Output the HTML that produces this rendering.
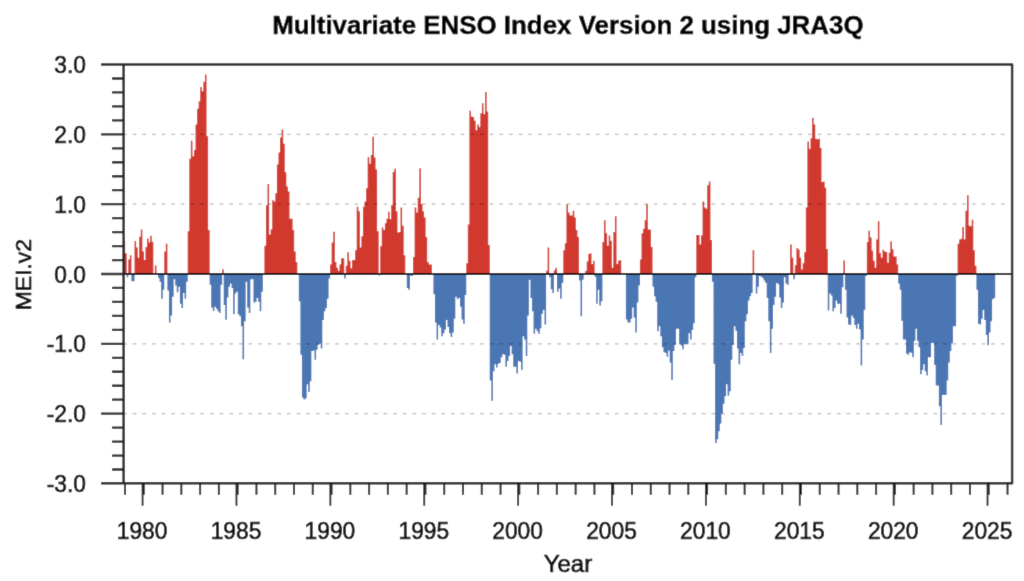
<!DOCTYPE html>
<html><head><meta charset="utf-8"><title>Multivariate ENSO Index Version 2 using JRA3Q</title>
<style>html,body{margin:0;padding:0;background:#fff;overflow:hidden}svg{display:block}</style></head>
<body><svg width="1024" height="581" viewBox="0 0 1024 581">
<defs><filter id="soft" x="0" y="0" width="1024" height="581" filterUnits="userSpaceOnUse"><feConvolveMatrix order="3" kernelMatrix="0.01134 0.08382 0.01134 0.08382 0.61935 0.08382 0.01134 0.08382 0.01134" edgeMode="duplicate" preserveAlpha="true"/></filter></defs>
<rect width="1024" height="581" fill="#fff"/>
<g filter="url(#soft)">
<rect width="1024" height="581" fill="#fff"/>
<path d="M123.55 273.8V241.34h1.615V273.8zM125.11 273.8V253.28h1.615V273.8zM128.24 273.8V259.56h1.615V273.8zM129.81 273.8V255.16h1.615V273.8zM134.50 273.8V241.06h1.615V273.8zM136.07 273.8V247.62h1.615V273.8zM137.63 273.8V257.68h1.615V273.8zM139.20 273.8V236.67h1.615V273.8zM140.76 273.8V229.62h1.615V273.8zM142.33 273.8V251.39h1.615V273.8zM143.89 273.8V260.12h1.615V273.8zM145.46 273.8V247.00h1.615V273.8zM147.02 273.8V238.41h1.615V273.8zM148.59 273.8V242.60h1.615V273.8zM150.15 273.8V235.69h1.615V273.8zM151.72 273.8V241.69h1.615V273.8zM154.85 273.8V265.56h1.615V273.8zM164.24 273.8V251.39h1.615V273.8zM165.80 273.8V243.86h1.615V273.8zM187.71 273.8V231.29h1.615V273.8zM189.27 273.8V158.77h1.615V273.8zM190.84 273.8V140.76h1.615V273.8zM192.40 273.8V156.26h1.615V273.8zM193.97 273.8V149.97h1.615V273.8zM195.53 273.8V124.57h1.615V273.8zM197.10 273.8V108.86h1.615V273.8zM198.66 273.8V101.32h1.615V273.8zM200.23 273.8V86.88h1.615V273.8zM201.79 273.8V91.27h1.615V273.8zM203.36 273.8V81.85h1.615V273.8zM204.92 273.8V74.59h1.615V273.8zM206.49 273.8V136.15h1.615V273.8zM208.05 273.8V230.04h1.615V273.8zM222.13 273.8V269.33h1.615V273.8zM264.38 273.8V245.74h1.615V273.8zM265.95 273.8V205.26h1.615V273.8zM267.51 273.8V183.90h1.615V273.8zM269.08 273.8V234.43h1.615V273.8zM270.64 273.8V229.41h1.615V273.8zM272.21 273.8V200.23h1.615V273.8zM273.77 273.8V201.49h1.615V273.8zM275.34 273.8V193.32h1.615V273.8zM276.90 273.8V164.42h1.615V273.8zM278.47 273.8V152.49h1.615V273.8zM280.03 273.8V137.41h1.615V273.8zM281.60 273.8V129.59h1.615V273.8zM283.16 273.8V143.69h1.615V273.8zM284.73 273.8V172.17h1.615V273.8zM286.29 273.8V186.41h1.615V273.8zM287.86 273.8V191.44h1.615V273.8zM289.42 273.8V218.73h1.615V273.8zM290.99 273.8V218.73h1.615V273.8zM292.55 273.8V230.04h1.615V273.8zM294.12 273.8V251.39h1.615V273.8zM295.68 273.8V262.00h1.615V273.8zM330.11 273.8V264.52h1.615V273.8zM331.67 273.8V242.60h1.615V273.8zM333.24 273.8V231.64h1.615V273.8zM334.80 273.8V262.00h1.615V273.8zM336.37 273.8V267.66h1.615V273.8zM337.93 273.8V270.80h1.615V273.8zM339.50 273.8V264.52h1.615V273.8zM341.06 273.8V258.30h1.615V273.8zM342.63 273.8V258.30h1.615V273.8zM345.76 273.8V265.77h1.615V273.8zM347.32 273.8V252.23h1.615V273.8zM348.89 273.8V260.75h1.615V273.8zM350.45 273.8V268.29h1.615V273.8zM352.02 273.8V260.12h1.615V273.8zM353.58 273.8V260.12h1.615V273.8zM355.15 273.8V250.14h1.615V273.8zM356.71 273.8V206.79h1.615V273.8zM358.27 273.8V211.19h1.615V273.8zM359.84 273.8V247.62h1.615V273.8zM361.40 273.8V236.32h1.615V273.8zM362.97 273.8V206.79h1.615V273.8zM364.53 273.8V201.49h1.615V273.8zM366.10 273.8V188.30h1.615V273.8zM367.66 273.8V156.89h1.615V273.8zM369.23 273.8V163.80h1.615V273.8zM370.79 273.8V155.00h1.615V273.8zM372.36 273.8V136.78h1.615V273.8zM373.92 273.8V157.51h1.615V273.8zM375.49 273.8V169.45h1.615V273.8zM377.05 273.8V231.29h1.615V273.8zM380.18 273.8V246.37h1.615V273.8zM381.75 273.8V227.52h1.615V273.8zM383.31 273.8V230.04h1.615V273.8zM384.88 273.8V223.13h1.615V273.8zM386.44 273.8V218.73h1.615V273.8zM388.01 273.8V211.82h1.615V273.8zM389.57 273.8V219.36h1.615V273.8zM391.14 273.8V205.26h1.615V273.8zM392.70 273.8V171.96h1.615V273.8zM394.27 273.8V168.82h1.615V273.8zM395.83 273.8V211.19h1.615V273.8zM397.40 273.8V232.55h1.615V273.8zM398.96 273.8V231.92h1.615V273.8zM400.53 273.8V207.42h1.615V273.8zM402.09 273.8V225.64h1.615V273.8zM403.66 273.8V255.16h1.615V273.8zM413.04 273.8V257.05h1.615V273.8zM414.61 273.8V207.42h1.615V273.8zM416.17 273.8V212.45h1.615V273.8zM417.74 273.8V197.72h1.615V273.8zM419.30 273.8V168.19h1.615V273.8zM420.87 273.8V204.00h1.615V273.8zM422.43 273.8V211.19h1.615V273.8zM424.00 273.8V217.47h1.615V273.8zM425.56 273.8V236.95h1.615V273.8zM427.13 273.8V262.00h1.615V273.8zM428.69 273.8V264.52h1.615V273.8zM430.26 273.8V264.52h1.615V273.8zM466.25 273.8V263.26h1.615V273.8zM467.81 273.8V224.38h1.615V273.8zM469.38 273.8V110.75h1.615V273.8zM470.94 273.8V116.40h1.615V273.8zM472.51 273.8V117.03h1.615V273.8zM474.07 273.8V120.80h1.615V273.8zM475.64 273.8V130.22h1.615V273.8zM477.20 273.8V124.57h1.615V273.8zM478.77 273.8V127.08h1.615V273.8zM480.33 273.8V113.26h1.615V273.8zM481.90 273.8V103.21h1.615V273.8zM483.46 273.8V113.89h1.615V273.8zM485.03 273.8V91.90h1.615V273.8zM486.59 273.8V111.38h1.615V273.8zM488.16 273.8V245.11h1.615V273.8zM546.05 273.8V270.80h1.615V273.8zM547.62 273.8V247.62h1.615V273.8zM553.88 273.8V270.17h1.615V273.8zM555.44 273.8V267.66h1.615V273.8zM563.27 273.8V250.14h1.615V273.8zM564.83 273.8V243.23h1.615V273.8zM566.40 273.8V204.28h1.615V273.8zM567.96 273.8V212.45h1.615V273.8zM569.53 273.8V215.59h1.615V273.8zM571.09 273.8V215.59h1.615V273.8zM572.66 273.8V210.77h1.615V273.8zM574.22 273.8V217.47h1.615V273.8zM575.79 273.8V230.04h1.615V273.8zM577.35 273.8V236.95h1.615V273.8zM585.18 273.8V270.80h1.615V273.8zM586.74 273.8V261.38h1.615V273.8zM588.31 273.8V253.91h1.615V273.8zM589.87 273.8V253.28h1.615V273.8zM591.44 273.8V263.89h1.615V273.8zM593.00 273.8V260.75h1.615V273.8zM602.39 273.8V241.97h1.615V273.8zM603.95 273.8V220.33h1.615V273.8zM605.52 273.8V233.18h1.615V273.8zM607.08 273.8V245.74h1.615V273.8zM608.65 273.8V235.41h1.615V273.8zM610.21 273.8V240.71h1.615V273.8zM611.78 273.8V267.66h1.615V273.8zM613.34 273.8V231.92h1.615V273.8zM614.91 273.8V216.22h1.615V273.8zM616.47 273.8V263.89h1.615V273.8zM618.04 273.8V260.75h1.615V273.8zM619.60 273.8V260.12h1.615V273.8zM639.94 273.8V259.56h1.615V273.8zM641.51 273.8V233.18h1.615V273.8zM643.07 273.8V228.78h1.615V273.8zM644.64 273.8V220.33h1.615V273.8zM646.20 273.8V204.28h1.615V273.8zM647.77 273.8V229.41h1.615V273.8zM649.33 273.8V229.41h1.615V273.8zM650.90 273.8V247.00h1.615V273.8zM696.28 273.8V235.06h1.615V273.8zM697.84 273.8V235.06h1.615V273.8zM699.41 273.8V244.48h1.615V273.8zM700.97 273.8V235.41h1.615V273.8zM702.54 273.8V201.49h1.615V273.8zM704.10 273.8V207.42h1.615V273.8zM705.67 273.8V208.68h1.615V273.8zM707.23 273.8V185.15h1.615V273.8zM708.80 273.8V181.38h1.615V273.8zM710.36 273.8V240.09h1.615V273.8zM752.61 273.8V250.14h1.615V273.8zM790.17 273.8V244.48h1.615V273.8zM791.73 273.8V257.68h1.615V273.8zM794.86 273.8V265.14h1.615V273.8zM796.43 273.8V247.97h1.615V273.8zM797.99 273.8V249.51h1.615V273.8zM799.56 273.8V257.68h1.615V273.8zM801.12 273.8V269.54h1.615V273.8zM802.69 273.8V263.26h1.615V273.8zM804.25 273.8V252.23h1.615V273.8zM805.82 273.8V207.42h1.615V273.8zM807.38 273.8V141.53h1.615V273.8zM808.95 273.8V148.72h1.615V273.8zM810.51 273.8V138.25h1.615V273.8zM812.08 273.8V117.66h1.615V273.8zM813.64 273.8V124.57h1.615V273.8zM815.21 273.8V138.67h1.615V273.8zM816.77 273.8V139.30h1.615V273.8zM818.34 273.8V138.67h1.615V273.8zM819.90 273.8V148.09h1.615V273.8zM821.47 273.8V182.01h1.615V273.8zM823.03 273.8V181.38h1.615V273.8zM824.60 273.8V187.67h1.615V273.8zM826.16 273.8V248.88h1.615V273.8zM843.37 273.8V260.54h1.615V273.8zM866.85 273.8V241.97h1.615V273.8zM868.41 273.8V230.66h1.615V273.8zM869.98 273.8V237.57h1.615V273.8zM871.54 273.8V250.77h1.615V273.8zM873.11 273.8V260.75h1.615V273.8zM874.67 273.8V267.66h1.615V273.8zM876.23 273.8V239.46h1.615V273.8zM877.80 273.8V221.24h1.615V273.8zM879.36 273.8V253.28h1.615V273.8zM880.93 273.8V257.68h1.615V273.8zM882.49 273.8V249.72h1.615V273.8zM884.06 273.8V251.39h1.615V273.8zM885.62 273.8V252.02h1.615V273.8zM887.19 273.8V262.63h1.615V273.8zM888.75 273.8V252.65h1.615V273.8zM890.32 273.8V241.34h1.615V273.8zM891.88 273.8V249.23h1.615V273.8zM893.45 273.8V256.42h1.615V273.8zM895.01 273.8V256.42h1.615V273.8zM896.58 273.8V264.52h1.615V273.8zM957.61 273.8V243.86h1.615V273.8zM959.17 273.8V239.46h1.615V273.8zM960.74 273.8V238.83h1.615V273.8zM962.30 273.8V226.89h1.615V273.8zM963.87 273.8V239.46h1.615V273.8zM965.43 273.8V210.77h1.615V273.8zM967.00 273.8V195.21h1.615V273.8zM968.56 273.8V225.64h1.615V273.8zM970.12 273.8V226.27h1.615V273.8zM971.69 273.8V219.71h1.615V273.8zM973.25 273.8V250.14h1.615V273.8zM974.82 273.8V265.77h1.615V273.8z" fill="#d1372d"/>
<path d="M126.68 273.8V277.29h1.615V273.8zM131.37 273.8V281.27h1.615V273.8zM132.94 273.8V281.27h1.615V273.8zM157.98 273.8V277.92h1.615V273.8zM159.54 273.8V281.69h1.615V273.8zM161.11 273.8V298.65h1.615V273.8zM162.67 273.8V289.85h1.615V273.8zM167.37 273.8V290.48h1.615V273.8zM168.93 273.8V322.52h1.615V273.8zM170.50 273.8V315.61h1.615V273.8zM172.06 273.8V296.76h1.615V273.8zM173.62 273.8V279.17h1.615V273.8zM175.19 273.8V285.46h1.615V273.8zM176.75 273.8V292.37h1.615V273.8zM178.32 273.8V286.71h1.615V273.8zM179.88 273.8V303.67h1.615V273.8zM181.45 273.8V308.07h1.615V273.8zM183.01 273.8V293.00h1.615V273.8zM184.58 273.8V298.65h1.615V273.8zM186.14 273.8V281.69h1.615V273.8zM209.62 273.8V284.83h1.615V273.8zM211.18 273.8V307.44h1.615V273.8zM212.75 273.8V310.93h1.615V273.8zM214.31 273.8V306.82h1.615V273.8zM215.88 273.8V308.70h1.615V273.8zM217.44 273.8V311.21h1.615V273.8zM219.00 273.8V313.10h1.615V273.8zM220.57 273.8V284.83h1.615V273.8zM223.70 273.8V304.93h1.615V273.8zM225.26 273.8V319.73h1.615V273.8zM226.83 273.8V297.39h1.615V273.8zM228.39 273.8V286.71h1.615V273.8zM229.96 273.8V283.57h1.615V273.8zM231.52 273.8V287.97h1.615V273.8zM233.09 273.8V314.35h1.615V273.8zM234.65 273.8V293.62h1.615V273.8zM236.22 273.8V291.74h1.615V273.8zM237.78 273.8V314.35h1.615V273.8zM239.35 273.8V316.24h1.615V273.8zM240.91 273.8V326.29h1.615V273.8zM242.48 273.8V359.24h1.615V273.8zM244.04 273.8V321.26h1.615V273.8zM245.61 273.8V281.69h1.615V273.8zM247.17 273.8V307.44h1.615V273.8zM248.74 273.8V313.10h1.615V273.8zM250.30 273.8V279.17h1.615V273.8zM251.87 273.8V279.17h1.615V273.8zM253.43 273.8V302.42h1.615V273.8zM255.00 273.8V301.79h1.615V273.8zM256.56 273.8V298.02h1.615V273.8zM258.13 273.8V301.79h1.615V273.8zM259.69 273.8V311.21h1.615V273.8zM261.26 273.8V291.74h1.615V273.8zM298.81 273.8V301.16h1.615V273.8zM300.38 273.8V354.84h1.615V273.8zM301.94 273.8V397.56h1.615V273.8zM303.51 273.8V399.44h1.615V273.8zM305.07 273.8V398.53h1.615V273.8zM306.64 273.8V384.36h1.615V273.8zM308.20 273.8V391.90h1.615V273.8zM309.77 273.8V381.22h1.615V273.8zM311.33 273.8V351.07h1.615V273.8zM312.89 273.8V350.44h1.615V273.8zM314.46 273.8V359.86h1.615V273.8zM316.02 273.8V349.81h1.615V273.8zM317.59 273.8V344.79h1.615V273.8zM319.15 273.8V343.74h1.615V273.8zM320.72 273.8V348.56h1.615V273.8zM322.28 273.8V320.01h1.615V273.8zM323.85 273.8V311.21h1.615V273.8zM325.41 273.8V308.07h1.615V273.8zM326.98 273.8V298.65h1.615V273.8zM328.54 273.8V278.55h1.615V273.8zM344.19 273.8V278.55h1.615V273.8zM378.62 273.8V275.41h1.615V273.8zM406.78 273.8V287.97h1.615V273.8zM408.35 273.8V289.85h1.615V273.8zM409.91 273.8V275.41h1.615V273.8zM411.48 273.8V276.03h1.615V273.8zM433.39 273.8V294.25h1.615V273.8zM434.95 273.8V322.52h1.615V273.8zM436.52 273.8V339.48h1.615V273.8zM438.08 273.8V325.03h1.615V273.8zM439.65 273.8V327.55h1.615V273.8zM441.21 273.8V336.34h1.615V273.8zM442.78 273.8V333.20h1.615V273.8zM444.34 273.8V329.43h1.615V273.8zM445.91 273.8V320.01h1.615V273.8zM447.47 273.8V326.92h1.615V273.8zM449.04 273.8V333.20h1.615V273.8zM450.60 273.8V336.97h1.615V273.8zM452.17 273.8V332.57h1.615V273.8zM453.73 273.8V318.75h1.615V273.8zM455.29 273.8V296.76h1.615V273.8zM456.86 273.8V299.28h1.615V273.8zM458.42 273.8V298.02h1.615V273.8zM459.99 273.8V306.82h1.615V273.8zM461.55 273.8V319.38h1.615V273.8zM463.12 273.8V323.78h1.615V273.8zM464.68 273.8V294.88h1.615V273.8zM489.72 273.8V380.59h1.615V273.8zM491.29 273.8V400.70h1.615V273.8zM492.85 273.8V371.17h1.615V273.8zM494.42 273.8V364.26h1.615V273.8zM495.98 273.8V367.40h1.615V273.8zM497.55 273.8V363.63h1.615V273.8zM499.11 273.8V363.00h1.615V273.8zM500.67 273.8V357.35h1.615V273.8zM502.24 273.8V354.21h1.615V273.8zM503.80 273.8V354.84h1.615V273.8zM505.37 273.8V366.77h1.615V273.8zM506.93 273.8V361.12h1.615V273.8zM508.50 273.8V356.09h1.615V273.8zM510.06 273.8V346.04h1.615V273.8zM511.63 273.8V354.21h1.615V273.8zM513.19 273.8V366.77h1.615V273.8zM514.76 273.8V366.77h1.615V273.8zM516.32 273.8V373.40h1.615V273.8zM517.89 273.8V361.12h1.615V273.8zM519.45 273.8V361.75h1.615V273.8zM521.02 273.8V369.91h1.615V273.8zM522.58 273.8V336.34h1.615V273.8zM524.15 273.8V339.48h1.615V273.8zM525.71 273.8V356.09h1.615V273.8zM527.28 273.8V315.61h1.615V273.8zM528.84 273.8V279.80h1.615V273.8zM530.41 273.8V298.02h1.615V273.8zM531.97 273.8V311.21h1.615V273.8zM533.54 273.8V333.83h1.615V273.8zM535.10 273.8V328.80h1.615V273.8zM536.67 273.8V331.32h1.615V273.8zM538.23 273.8V333.83h1.615V273.8zM539.80 273.8V328.17h1.615V273.8zM541.36 273.8V313.73h1.615V273.8zM542.93 273.8V309.96h1.615V273.8zM544.49 273.8V324.41h1.615V273.8zM549.18 273.8V277.29h1.615V273.8zM550.75 273.8V289.23h1.615V273.8zM552.31 273.8V293.00h1.615V273.8zM557.01 273.8V291.74h1.615V273.8zM558.57 273.8V288.60h1.615V273.8zM560.14 273.8V298.65h1.615V273.8zM561.70 273.8V282.94h1.615V273.8zM578.92 273.8V280.43h1.615V273.8zM580.48 273.8V316.24h1.615V273.8zM582.05 273.8V279.80h1.615V273.8zM594.56 273.8V276.66h1.615V273.8zM596.13 273.8V303.67h1.615V273.8zM597.69 273.8V289.85h1.615V273.8zM599.26 273.8V305.56h1.615V273.8zM600.82 273.8V301.16h1.615V273.8zM625.86 273.8V319.38h1.615V273.8zM627.43 273.8V322.52h1.615V273.8zM628.99 273.8V322.52h1.615V273.8zM630.56 273.8V318.75h1.615V273.8zM632.12 273.8V307.44h1.615V273.8zM633.69 273.8V317.49h1.615V273.8zM635.25 273.8V332.57h1.615V273.8zM636.82 273.8V302.42h1.615V273.8zM638.38 273.8V285.46h1.615V273.8zM652.46 273.8V286.71h1.615V273.8zM654.03 273.8V296.14h1.615V273.8zM655.59 273.8V301.79h1.615V273.8zM657.16 273.8V331.32h1.615V273.8zM658.72 273.8V326.29h1.615V273.8zM660.29 273.8V336.34h1.615V273.8zM661.85 273.8V347.30h1.615V273.8zM663.42 273.8V352.32h1.615V273.8zM664.98 273.8V352.95h1.615V273.8zM666.55 273.8V356.72h1.615V273.8zM668.11 273.8V350.44h1.615V273.8zM669.68 273.8V362.38h1.615V273.8zM671.24 273.8V379.97h1.615V273.8zM672.81 273.8V351.07h1.615V273.8zM674.37 273.8V344.79h1.615V273.8zM675.94 273.8V328.80h1.615V273.8zM677.50 273.8V328.80h1.615V273.8zM679.07 273.8V344.16h1.615V273.8zM680.63 273.8V345.41h1.615V273.8zM682.20 273.8V349.18h1.615V273.8zM683.76 273.8V343.74h1.615V273.8zM685.33 273.8V344.16h1.615V273.8zM686.89 273.8V344.16h1.615V273.8zM688.45 273.8V333.20h1.615V273.8zM690.02 273.8V339.48h1.615V273.8zM691.58 273.8V330.06h1.615V273.8zM693.15 273.8V323.15h1.615V273.8zM694.71 273.8V277.29h1.615V273.8zM711.93 273.8V281.69h1.615V273.8zM713.49 273.8V363.63h1.615V273.8zM715.06 273.8V443.06h1.615V273.8zM716.62 273.8V439.30h1.615V273.8zM718.19 273.8V431.13h1.615V273.8zM719.75 273.8V423.59h1.615V273.8zM721.32 273.8V413.54h1.615V273.8zM722.88 273.8V403.84h1.615V273.8zM724.45 273.8V396.30h1.615V273.8zM726.01 273.8V384.36h1.615V273.8zM727.58 273.8V395.67h1.615V273.8zM729.14 273.8V391.27h1.615V273.8zM730.71 273.8V359.86h1.615V273.8zM732.27 273.8V344.79h1.615V273.8zM733.83 273.8V326.29h1.615V273.8zM735.40 273.8V330.69h1.615V273.8zM736.96 273.8V348.56h1.615V273.8zM738.53 273.8V364.26h1.615V273.8zM740.09 273.8V352.95h1.615V273.8zM741.66 273.8V356.09h1.615V273.8zM743.22 273.8V347.93h1.615V273.8zM744.79 273.8V321.26h1.615V273.8zM746.35 273.8V314.35h1.615V273.8zM747.92 273.8V300.53h1.615V273.8zM749.48 273.8V296.14h1.615V273.8zM751.05 273.8V293.00h1.615V273.8zM755.74 273.8V293.62h1.615V273.8zM757.31 273.8V286.71h1.615V273.8zM758.87 273.8V276.03h1.615V273.8zM760.44 273.8V276.66h1.615V273.8zM762.00 273.8V277.92h1.615V273.8zM763.57 273.8V280.43h1.615V273.8zM765.13 273.8V282.94h1.615V273.8zM766.70 273.8V298.02h1.615V273.8zM768.26 273.8V321.26h1.615V273.8zM769.83 273.8V352.95h1.615V273.8zM771.39 273.8V328.80h1.615V273.8zM772.96 273.8V304.93h1.615V273.8zM774.52 273.8V296.76h1.615V273.8zM776.09 273.8V282.94h1.615V273.8zM777.65 273.8V284.20h1.615V273.8zM779.22 273.8V297.39h1.615V273.8zM780.78 273.8V308.07h1.615V273.8zM782.34 273.8V302.42h1.615V273.8zM783.91 273.8V277.29h1.615V273.8zM785.47 273.8V283.57h1.615V273.8zM787.04 273.8V284.83h1.615V273.8zM793.30 273.8V279.17h1.615V273.8zM827.72 273.8V310.58h1.615V273.8zM829.29 273.8V293.62h1.615V273.8zM830.85 273.8V295.51h1.615V273.8zM832.42 273.8V311.21h1.615V273.8zM833.98 273.8V308.07h1.615V273.8zM835.55 273.8V300.53h1.615V273.8zM837.11 273.8V303.67h1.615V273.8zM838.68 273.8V303.67h1.615V273.8zM840.24 273.8V313.73h1.615V273.8zM841.81 273.8V287.34h1.615V273.8zM844.94 273.8V289.85h1.615V273.8zM846.50 273.8V317.49h1.615V273.8zM848.07 273.8V324.41h1.615V273.8zM849.63 273.8V325.03h1.615V273.8zM851.20 273.8V315.61h1.615V273.8zM852.76 273.8V318.12h1.615V273.8zM854.33 273.8V325.03h1.615V273.8zM855.89 273.8V328.80h1.615V273.8zM857.46 273.8V323.78h1.615V273.8zM859.02 273.8V329.43h1.615V273.8zM860.59 273.8V365.52h1.615V273.8zM862.15 273.8V339.48h1.615V273.8zM863.72 273.8V309.96h1.615V273.8zM865.28 273.8V276.03h1.615V273.8zM898.14 273.8V283.57h1.615V273.8zM899.71 273.8V289.85h1.615V273.8zM901.27 273.8V320.64h1.615V273.8zM902.84 273.8V339.48h1.615V273.8zM904.40 273.8V339.48h1.615V273.8zM905.97 273.8V353.58h1.615V273.8zM907.53 273.8V354.84h1.615V273.8zM909.10 273.8V352.32h1.615V273.8zM910.66 273.8V352.95h1.615V273.8zM912.23 273.8V357.35h1.615V273.8zM913.79 273.8V340.81h1.615V273.8zM915.36 273.8V328.80h1.615V273.8zM916.92 273.8V340.81h1.615V273.8zM918.49 273.8V347.30h1.615V273.8zM920.05 273.8V374.31h1.615V273.8zM921.61 273.8V369.91h1.615V273.8zM923.18 273.8V364.26h1.615V273.8zM924.74 273.8V371.17h1.615V273.8zM926.31 273.8V375.57h1.615V273.8zM927.87 273.8V357.35h1.615V273.8zM929.44 273.8V357.35h1.615V273.8zM931.00 273.8V342.90h1.615V273.8zM932.57 273.8V342.90h1.615V273.8zM934.13 273.8V364.89h1.615V273.8zM935.70 273.8V385.62h1.615V273.8zM937.26 273.8V385.62h1.615V273.8zM938.83 273.8V406.35h1.615V273.8zM940.39 273.8V424.92h1.615V273.8zM941.96 273.8V395.04h1.615V273.8zM943.52 273.8V395.04h1.615V273.8zM945.09 273.8V395.04h1.615V273.8zM946.65 273.8V380.59h1.615V273.8zM948.22 273.8V362.38h1.615V273.8zM949.78 273.8V351.07h1.615V273.8zM951.35 273.8V343.25h1.615V273.8zM952.91 273.8V326.29h1.615V273.8zM954.48 273.8V326.29h1.615V273.8zM956.04 273.8V276.03h1.615V273.8zM976.38 273.8V289.85h1.615V273.8zM977.95 273.8V323.78h1.615V273.8zM979.51 273.8V324.41h1.615V273.8zM981.08 273.8V318.75h1.615V273.8zM982.64 273.8V309.96h1.615V273.8zM984.21 273.8V320.01h1.615V273.8zM985.77 273.8V335.08h1.615V273.8zM987.34 273.8V345.14h1.615V273.8zM988.90 273.8V332.57h1.615V273.8zM990.47 273.8V321.26h1.615V273.8zM992.03 273.8V299.28h1.615V273.8zM993.60 273.8V298.02h1.615V273.8z" fill="#4b76b4"/>
<line x1="123.1" x2="1005.1" y1="134.34" y2="134.34" stroke="#000" stroke-opacity="0.27" stroke-width="1.15" stroke-dasharray="3.6 6.047"/>
<line x1="123.1" x2="1005.1" y1="204.17" y2="204.17" stroke="#000" stroke-opacity="0.27" stroke-width="1.15" stroke-dasharray="3.6 6.047"/>
<line x1="123.1" x2="1005.1" y1="343.83" y2="343.83" stroke="#000" stroke-opacity="0.27" stroke-width="1.15" stroke-dasharray="3.6 6.047"/>
<line x1="123.1" x2="1005.1" y1="413.66" y2="413.66" stroke="#000" stroke-opacity="0.27" stroke-width="1.15" stroke-dasharray="3.6 6.047"/>
<line x1="123.6" x2="1012.1" y1="274.0" y2="274.0" stroke="#111" stroke-width="1.9"/>
<path d="M101 64.5H1012.1V483.3H101 M123.6 64.5V483.3" fill="none" stroke="#262626" stroke-width="2.45" stroke-linejoin="round"/>
<path d="M112 78.48H123.6M112 92.44H123.6M112 106.41H123.6M112 120.37H123.6M101 134.34H123.6M112 148.31H123.6M112 162.27H123.6M112 176.24H123.6M112 190.20H123.6M101 204.17H123.6M112 218.14H123.6M112 232.10H123.6M112 246.07H123.6M112 260.03H123.6M101 274.00H123.6M112 287.97H123.6M112 301.93H123.6M112 315.90H123.6M112 329.86H123.6M101 343.83H123.6M112 357.80H123.6M112 371.76H123.6M112 385.73H123.6M112 399.69H123.6M101 413.66H123.6M112 427.63H123.6M112 441.59H123.6M112 455.56H123.6M112 469.52H123.6" stroke="#262626" stroke-width="2.3" fill="none"/>
<path d="M125.00 483.3v11.5M143.78 483.3v11.5M162.55 483.3v11.5M181.33 483.3v11.5M200.11 483.3v11.5M218.88 483.3v11.5M237.66 483.3v11.5M256.44 483.3v11.5M275.22 483.3v11.5M293.99 483.3v11.5M312.77 483.3v11.5M331.55 483.3v11.5M350.32 483.3v11.5M369.10 483.3v11.5M387.88 483.3v11.5M406.66 483.3v11.5M425.43 483.3v11.5M444.21 483.3v11.5M462.99 483.3v11.5M481.76 483.3v11.5M500.54 483.3v11.5M519.32 483.3v11.5M538.09 483.3v11.5M556.87 483.3v11.5M575.65 483.3v11.5M594.42 483.3v11.5M613.20 483.3v11.5M631.98 483.3v11.5M650.76 483.3v11.5M669.53 483.3v11.5M688.31 483.3v11.5M707.09 483.3v11.5M725.86 483.3v11.5M744.64 483.3v11.5M763.42 483.3v11.5M782.20 483.3v11.5M800.97 483.3v11.5M819.75 483.3v11.5M838.53 483.3v11.5M857.30 483.3v11.5M876.08 483.3v11.5M894.86 483.3v11.5M913.63 483.3v11.5M932.41 483.3v11.5M951.19 483.3v11.5M969.97 483.3v11.5M988.74 483.3v11.5M1007.52 483.3v11.5" stroke="#262626" stroke-width="2.0" fill="none"/>
<path d="M142.58 483.3v22.4M236.46 483.3v22.4M330.35 483.3v22.4M424.23 483.3v22.4M518.12 483.3v22.4M612.00 483.3v22.4M705.89 483.3v22.4M799.77 483.3v22.4M893.66 483.3v22.4M987.54 483.3v22.4" stroke="#1a1a1a" stroke-width="1.8" fill="none"/>
<g font-family="'Liberation Sans', Arial, Helvetica, sans-serif" fill="#0a0a0a" stroke="#0a0a0a" stroke-width="0.7">
<text x="567.9" y="34.4" font-size="25.9" font-weight="bold" text-anchor="middle" fill="#000" stroke="#000" stroke-width="0.5">Multivariate ENSO Index Version 2 using JRA3Q</text>
<text transform="translate(86.0 73.1) scale(0.933 1)" font-size="24.4" text-anchor="end">3.0</text>
<text transform="translate(86.0 142.9) scale(0.933 1)" font-size="24.4" text-anchor="end">2.0</text>
<text transform="translate(86.0 212.7) scale(0.933 1)" font-size="24.4" text-anchor="end">1.0</text>
<text transform="translate(86.0 282.6) scale(0.933 1)" font-size="24.4" text-anchor="end">0.0</text>
<text transform="translate(86.0 352.4) scale(0.933 1)" font-size="24.4" text-anchor="end">-1.0</text>
<text transform="translate(86.0 422.2) scale(0.933 1)" font-size="24.4" text-anchor="end">-2.0</text>
<text transform="translate(86.0 492.0) scale(0.933 1)" font-size="24.4" text-anchor="end">-3.0</text>
<text transform="translate(142.1 538.7) scale(0.933 1)" font-size="24.4" text-anchor="middle">1980</text>
<text transform="translate(236.0 538.7) scale(0.933 1)" font-size="24.4" text-anchor="middle">1985</text>
<text transform="translate(329.9 538.7) scale(0.933 1)" font-size="24.4" text-anchor="middle">1990</text>
<text transform="translate(423.8 538.7) scale(0.933 1)" font-size="24.4" text-anchor="middle">1995</text>
<text transform="translate(517.6 538.7) scale(0.933 1)" font-size="24.4" text-anchor="middle">2000</text>
<text transform="translate(611.5 538.7) scale(0.933 1)" font-size="24.4" text-anchor="middle">2005</text>
<text transform="translate(705.4 538.7) scale(0.933 1)" font-size="24.4" text-anchor="middle">2010</text>
<text transform="translate(799.3 538.7) scale(0.933 1)" font-size="24.4" text-anchor="middle">2015</text>
<text transform="translate(893.2 538.7) scale(0.933 1)" font-size="24.4" text-anchor="middle">2020</text>
<text transform="translate(987.1 538.7) scale(0.933 1)" font-size="24.4" text-anchor="middle">2025</text>
<text transform="translate(567.9 571.6) scale(1.025 1)" font-size="23.4" text-anchor="middle">Year</text>
<text transform="translate(31.2 274.6) rotate(-90)" font-size="22.9" text-anchor="middle">MEI.v2</text>
</g></g></svg></body></html>
